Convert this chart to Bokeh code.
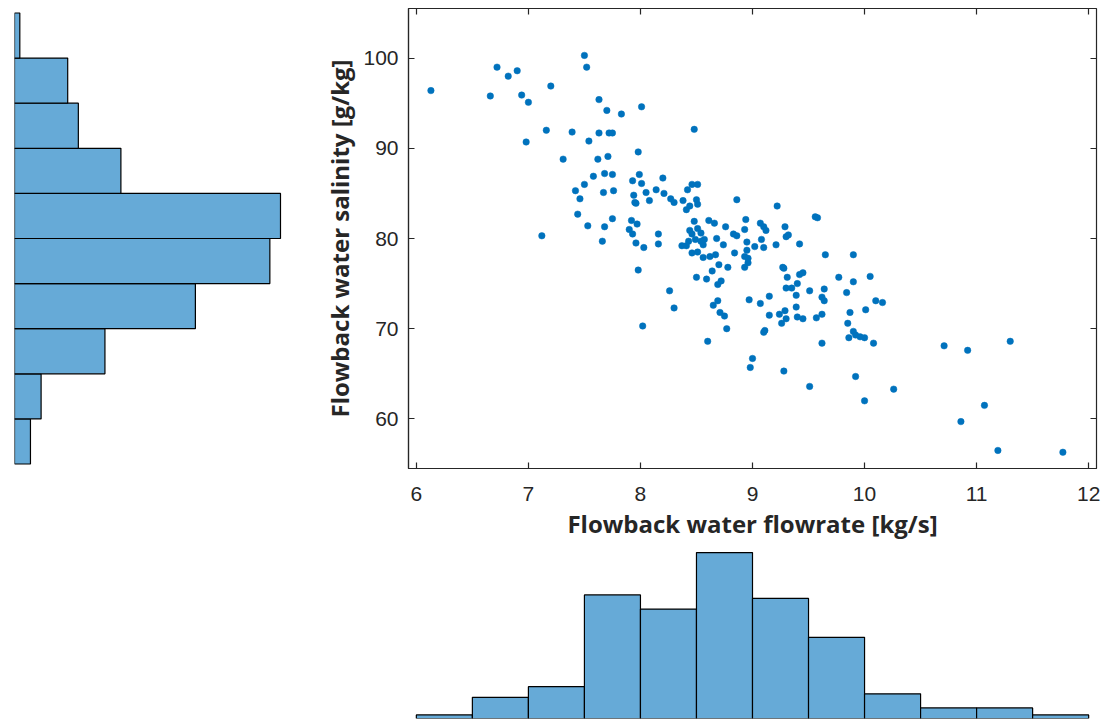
from bokeh.plotting import figure
from bokeh.layouts import row, column
from bokeh.models import LinearAxis, FixedTicker, Range1d
from bokeh.embed import file_html
from bokeh.resources import INLINE

# ---- scatter data ----
flowrate = [
    6.13, 6.66, 6.72, 6.82, 6.90, 6.94, 7.00, 7.20, 6.98, 7.16, 7.39, 7.54, 7.63, 7.72, 7.75, 7.31,
    7.50, 7.52, 7.63, 7.70, 7.83, 8.01, 7.62, 7.71, 7.98, 7.58, 7.68, 7.75, 7.99, 7.50, 7.42, 7.46,
    7.44, 7.53, 7.68, 7.75, 7.67, 7.76, 7.93, 8.01, 7.94, 7.95, 8.05, 8.08, 7.92, 7.97, 7.90, 7.93,
    7.96, 8.03, 7.12, 7.66, 7.96,
    8.48, 8.20, 8.14, 8.21, 8.27, 8.30, 8.38, 8.41, 8.44, 8.42, 8.46, 8.51, 8.50, 8.51, 8.86, 9.22,
    9.56, 9.58, 8.16, 8.16, 8.48, 8.44, 8.51, 8.46, 8.54, 8.37, 8.41, 8.43, 8.49, 8.54, 8.57, 8.56,
    8.46, 8.51, 8.56, 8.62, 8.67, 8.61, 8.66, 8.76, 8.68, 8.74, 8.83, 8.86, 8.94, 8.93, 8.95, 8.93,
    8.96, 8.96, 8.93, 8.84, 9.02, 9.07, 9.10, 9.12, 9.29, 9.08, 9.10, 9.30, 9.32, 9.21, 9.42, 9.65,
    9.90, 8.70, 8.78, 9.27, 7.98, 8.95,
    8.64, 8.50, 8.59, 8.72, 8.69, 8.26, 8.30, 8.02, 8.65, 8.69, 8.71, 8.75, 8.77, 8.60, 8.97, 9.07,
    9.15, 9.15, 9.11, 9.10, 9.00, 8.98, 9.28, 9.51, 9.28, 9.31, 9.30, 9.35, 9.40, 9.42, 9.45, 9.39,
    9.39, 9.24, 9.29, 9.30, 9.26, 9.40, 9.45, 9.51, 9.77, 9.64, 9.62, 9.64, 9.57, 9.62, 9.62, 9.90,
    9.84, 9.87, 9.85, 9.90, 9.92, 9.96, 10.00, 9.86, 9.92, 10.08, 10.01, 10.10, 10.16, 10.00, 10.26,
    10.71, 10.92, 11.30, 11.07, 10.86, 11.19, 11.77, 10.05,
]
salinity = [
    96.4, 95.8, 99.0, 98.0, 98.6, 95.9, 95.1, 96.9, 90.7, 92.0, 91.8, 90.8, 91.7, 91.7, 91.7, 88.8,
    100.3, 99.0, 95.4, 94.2, 93.8, 94.6, 88.8, 89.1, 89.6, 86.9, 87.2, 87.1, 87.1, 86.0, 85.3, 84.4,
    82.7, 81.4, 81.3, 82.2, 85.1, 85.3, 86.4, 86.1, 84.8, 84.0, 85.1, 84.2, 82.0, 81.6, 81.0, 80.5,
    79.5, 79.0, 80.3, 79.7, 83.9,
    92.1, 86.7, 85.4, 85.0, 84.4, 84.0, 84.2, 83.2, 83.6, 85.4, 86.0, 86.0, 84.3, 83.8, 84.3, 83.6,
    82.4, 82.3, 80.5, 79.4, 81.9, 80.9, 81.1, 80.5, 80.6, 79.2, 79.2, 79.7, 79.9, 79.7, 79.9, 79.3,
    78.4, 78.5, 77.9, 78.0, 78.2, 82.0, 81.7, 81.3, 80.0, 79.3, 80.5, 80.3, 82.1, 81.0, 79.6, 78.0,
    77.8, 77.3, 76.8, 78.4, 79.1, 81.7, 81.3, 80.9, 81.3, 79.9, 79.0, 80.2, 80.4, 79.3, 79.4, 78.2,
    78.2, 77.1, 76.8, 76.8, 76.5, 78.7,
    76.4, 75.7, 75.5, 75.3, 74.9, 74.2, 72.3, 70.3, 72.6, 73.1, 71.8, 71.4, 70.0, 68.6, 73.2, 72.8,
    73.6, 71.5, 69.8, 69.6, 66.7, 65.7, 65.3, 63.6, 76.7, 75.7, 74.5, 74.5, 75.0, 76.0, 76.2, 73.7,
    72.4, 71.6, 72.0, 71.1, 70.6, 71.3, 71.1, 74.2, 75.7, 74.4, 73.5, 73.1, 71.2, 71.6, 68.4, 75.2,
    74.0, 71.8, 70.6, 69.7, 69.3, 69.1, 69.0, 69.0, 64.7, 68.4, 72.1, 73.1, 72.9, 62.0, 63.3,
    68.1, 67.6, 68.6, 61.5, 59.7, 56.5, 56.3, 75.8,
]

# ---- histogram counts ----
flow_edges = [6.0, 6.5, 7.0, 7.5, 8.0, 8.5, 9.0, 9.5, 10.0, 10.5, 11.0, 11.5, 12.0]
flow_counts = [1, 6, 9, 35, 31, 47, 34, 23, 7, 3, 3, 1]
sal_edges = [55, 60, 65, 70, 75, 80, 85, 90, 95, 100, 105]
sal_counts = [3, 5, 17, 34, 48, 50, 20, 12, 10, 1]

x_ticks = [6, 7, 8, 9, 10, 11, 12]
y_ticks = [60, 70, 80, 90, 100]

AX = "#262626"
DOT = "#0072BD"
BAR = "#66AAD7"

X_RANGE = (5.93, 12.07)
Y_RANGE = (54.5, 105.5)

LEFT = 94  # space left of the scatter frame

# ---- scatter ----
p = figure(width=1104 - (408 - LEFT), height=545, x_range=Range1d(*X_RANGE), y_range=Range1d(*Y_RANGE),
           output_backend="svg", toolbar_location=None,
           min_border_left=LEFT, min_border_right=8, min_border_top=8, min_border_bottom=77)
p.scatter(flowrate, salinity, size=6.5, fill_color=DOT, line_color=DOT, line_width=0.5)
p.xgrid.visible = False
p.ygrid.visible = False
p.outline_line_color = AX
p.outline_line_width = 1.2

for ax, ticks in ((p.xaxis[0], x_ticks), (p.yaxis[0], y_ticks)):
    ax.ticker = FixedTicker(ticks=ticks)
    ax.major_tick_in = 6
    ax.major_tick_out = 0
    ax.minor_tick_line_color = None
    ax.axis_line_color = AX
    ax.axis_line_width = 1.2
    ax.major_tick_line_color = AX
    ax.major_tick_line_width = 1.2
    ax.major_label_text_font = "Liberation Sans"
    ax.major_label_text_font_size = "21px"
    ax.major_label_text_color = AX
    ax.axis_label_text_font = "Open Sans"
    ax.axis_label_text_font_style = "bold"
    ax.axis_label_text_font_size = "24px"
    ax.axis_label_text_color = AX

p.xaxis.axis_label = "Flowback water flowrate [kg/s]"
p.yaxis.axis_label = "Flowback water salinity [g/kg]"
p.xaxis.major_label_standoff = 18
p.yaxis.major_label_standoff = 10
p.xaxis.axis_label_standoff = 3
p.yaxis.axis_label_standoff = 4

for loc, ticks in (("above", x_ticks), ("right", y_ticks)):
    a = LinearAxis(ticker=FixedTicker(ticks=ticks))
    a.major_tick_in = 6
    a.major_tick_out = 0
    a.minor_tick_line_color = None
    a.axis_line_color = None
    a.major_tick_line_color = AX
    a.major_tick_line_width = 1.2
    a.major_label_text_font_size = "0px"
    a.major_label_text_color = None
    a.major_label_standoff = 0
    p.add_layout(a, loc)

# ---- left histogram (salinity) ----
sal_centers = [(a + b) / 2 for a, b in zip(sal_edges[:-1], sal_edges[1:])]
sal_h = [b - a for a, b in zip(sal_edges[:-1], sal_edges[1:])]
lw = 408 - LEFT
ph = figure(width=lw, height=468, x_range=Range1d(0, (lw - 14) / 5.32), y_range=Range1d(*Y_RANGE),
            output_backend="svg", toolbar_location=None,
            min_border_left=14, min_border_right=0, min_border_top=8, min_border_bottom=0)
ph.hbar(y=sal_centers, height=sal_h, left=0, right=sal_counts,
        fill_color=BAR, line_color="black", line_width=1.2)
ph.axis.visible = False
ph.grid.visible = False
ph.outline_line_color = None

# ---- bottom histogram (flowrate) ----
flow_centers = [(a + b) / 2 for a, b in zip(flow_edges[:-1], flow_edges[1:])]
flow_w = [b - a for a, b in zip(flow_edges[:-1], flow_edges[1:])]
pb = figure(width=1104 - lw, height=176, x_range=Range1d(*X_RANGE), y_range=Range1d(0, 49.0),
            output_backend="svg", toolbar_location=None,
            min_border_left=LEFT, min_border_right=8, min_border_top=0, min_border_bottom=3)
pb.vbar(x=flow_centers, width=flow_w, bottom=0, top=flow_counts,
        fill_color=BAR, line_color="black", line_width=1.2)
pb.axis.visible = False
pb.grid.visible = False
pb.outline_line_color = None

layout = row(ph, column(p, pb))
open("out.html", "w").write(file_html(layout, INLINE))
